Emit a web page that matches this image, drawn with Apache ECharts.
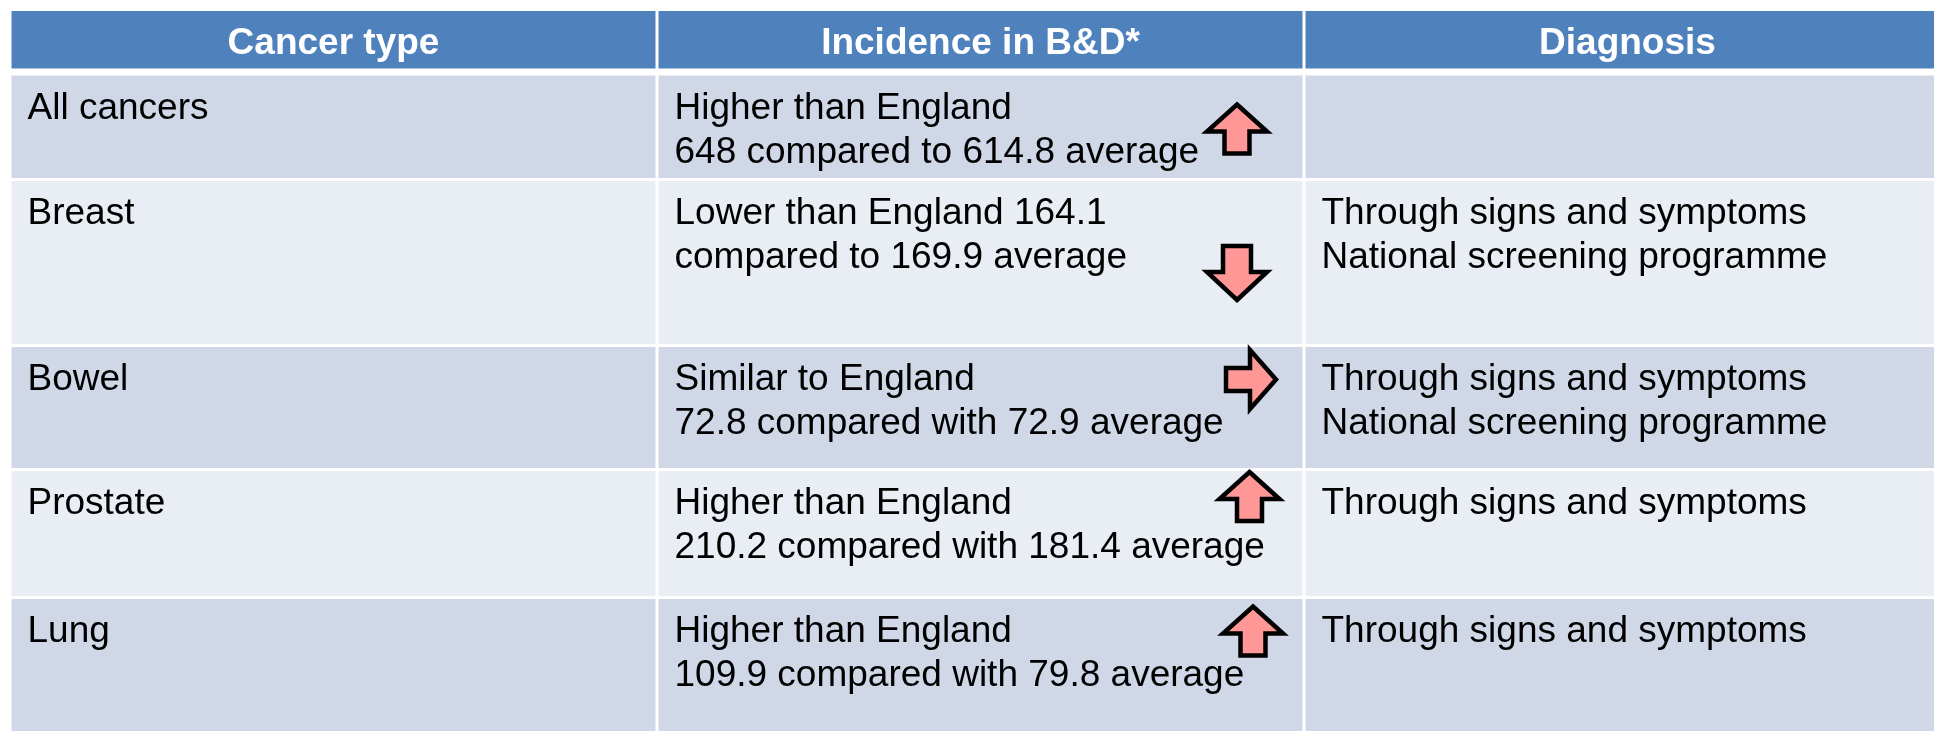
<!DOCTYPE html>
<html>
<head>
<meta charset="utf-8">
<script src="https://cdn.jsdelivr.net/npm/echarts@6/dist/echarts.min.js"></script>
<style>
  html, body { margin: 0; padding: 0; background: #fff; }
  #chart { width: 1934px; height: 731px; }
</style>
</head>
<body>
<div id="chart"></div>
<script>
// table content
const columns = ['Cancer type', 'Incidence in B&D*', 'Diagnosis']
const cancerTypes = ['All cancers', 'Breast', 'Bowel', 'Prostate', 'Lung']
const comparison = ['Higher than England', 'Lower than England', 'Similar to England', 'Higher than England', 'Higher than England']
const bdRate = [648, 164.1, 72.8, 210.2, 109.9]
const englandRate = [614.8, 169.9, 72.9, 181.4, 79.8]
const comparedWord = ['to', 'to', 'with', 'with', 'with']
const rateOnFirstLine = [false, true, false, false, false]
const trend = ['up', 'down', 'right', 'up', 'up']
const diagnosis = [
  [],
  ['Through signs and symptoms', 'National screening programme'],
  ['Through signs and symptoms', 'National screening programme'],
  ['Through signs and symptoms'],
  ['Through signs and symptoms'],
]

// layout (row edges on the y scale, white rule widths between rows)
const rowEdges = [11, 72, 179.5, 345.5, 469.5, 597.5, 770]
const ruleWidth = [0, 7, 3, 3, 3, 3, 0]
const colRule = 3
const arrowSpot = [[-67, 57], [-67, 93.5], [-53, 34], [-54.5, 27], [-51, 33.5]]

const FONT = '"Liberation Sans", Arial, sans-serif'
const HEADER_BG = '#4F81BD'
const ROW_BG = ['#D0D8E8', '#E9EDF4']

function incidenceText(i) {
  const tail = `compared ${comparedWord[i]} ${englandRate[i]} average`
  if (rateOnFirstLine[i]) return `${comparison[i]} ${bdRate[i]}\n${tail}`
  return `${comparison[i]}\n${bdRate[i]} ${tail}`
}

function cellText(c, r) {
  if (r === 0) return columns[c]
  const i = r - 1
  if (c === 0) return cancerTypes[i]
  if (c === 1) return incidenceText(i)
  return diagnosis[i].join('\n')
}

const cells = []
for (let r = 0; r <= cancerTypes.length; r++) {
  for (let c = 0; c < columns.length; c++) cells.push([c, r])
}
const arrows = trend.map((t, i) => [1, i + 1])

function arrowPoints(dir) {
  if (dir === 'right') {
    const L = 50, B = 59, s = 23, hh = 26
    return [[L / 2, 0], [L / 2 - hh, B / 2], [L / 2 - hh, s / 2], [-L / 2, s / 2],
      [-L / 2, -s / 2], [L / 2 - hh, -s / 2], [L / 2 - hh, -B / 2]]
  }
  const w = 60, h = dir === 'down' ? 54 : 49, s = dir === 'down' ? 28 : 25, hh = dir === 'down' ? 28 : 27
  const up = [[0, -h / 2], [w / 2, -h / 2 + hh], [s / 2, -h / 2 + hh], [s / 2, h / 2],
    [-s / 2, h / 2], [-s / 2, -h / 2 + hh], [-w / 2, -h / 2 + hh]]
  return dir === 'down' ? up.map(p => [p[0], -p[1]]) : up
}

const chart = echarts.init(document.getElementById('chart'))
chart.setOption({
  backgroundColor: '#fff',
  animation: false,
  grid: { left: 10, top: 0, width: 1941, height: 731, outerBoundsMode: 'none' },
  xAxis: { type: 'category', data: columns, show: false, boundaryGap: true },
  yAxis: { type: 'value', min: 0, max: 731, inverse: true, show: false },
  series: [
    {
      type: 'custom',
      clip: false,
      data: cells,
      encode: { x: 0, y: 1 },
      renderItem(params, api) {
        const c = api.value(0)
        const r = api.value(1)
        const cx = api.coord([c, 0])[0]
        const bw = api.size([1, 0])[0]
        const top = api.coord([0, rowEdges[r]])[1] + ruleWidth[r] / 2
        const bottom = api.coord([0, rowEdges[r + 1]])[1] - ruleWidth[r + 1] / 2
        const left = cx - bw / 2 + colRule / 2
        const width = bw - colRule
        const header = r === 0
        const rect = {
          type: 'rect',
          shape: { x: left, y: top, width, height: bottom - top },
          style: { fill: header ? HEADER_BG : ROW_BG[(r - 1) % 2] },
        }
        const text = {
          type: 'text',
          style: header
            ? {
                text: cellText(c, r), x: cx, y: (top + bottom) / 2 + 4,
                align: 'center', verticalAlign: 'middle',
                fill: '#fff', fontFamily: FONT, fontWeight: 'bold', fontSize: 37,
              }
            : {
                text: cellText(c, r), x: left + 16, y: top + 11,
                align: 'left', verticalAlign: 'top', lineHeight: 44,
                fill: '#000', fontFamily: FONT, fontSize: 37,
              },
        }
        return { type: 'group', children: [rect, text] }
      },
      z: 1,
    },
    {
      type: 'custom',
      clip: false,
      data: arrows,
      encode: { x: 0, y: 1 },
      renderItem(params, api) {
        const i = params.dataIndex
        const c = api.value(0)
        const r = api.value(1)
        const right = api.coord([c, 0])[0] + api.size([1, 0])[0] / 2
        const top = api.coord([0, rowEdges[r]])[1]
        return {
          type: 'polygon',
          x: right + arrowSpot[i][0],
          y: top + arrowSpot[i][1],
          shape: { points: arrowPoints(trend[i]) },
          style: { fill: '#FF9797', stroke: '#000', lineWidth: 4.5, lineJoin: 'miter' },
        }
      },
      z: 2,
    },
  ],
})
</script>
</body>
</html>
